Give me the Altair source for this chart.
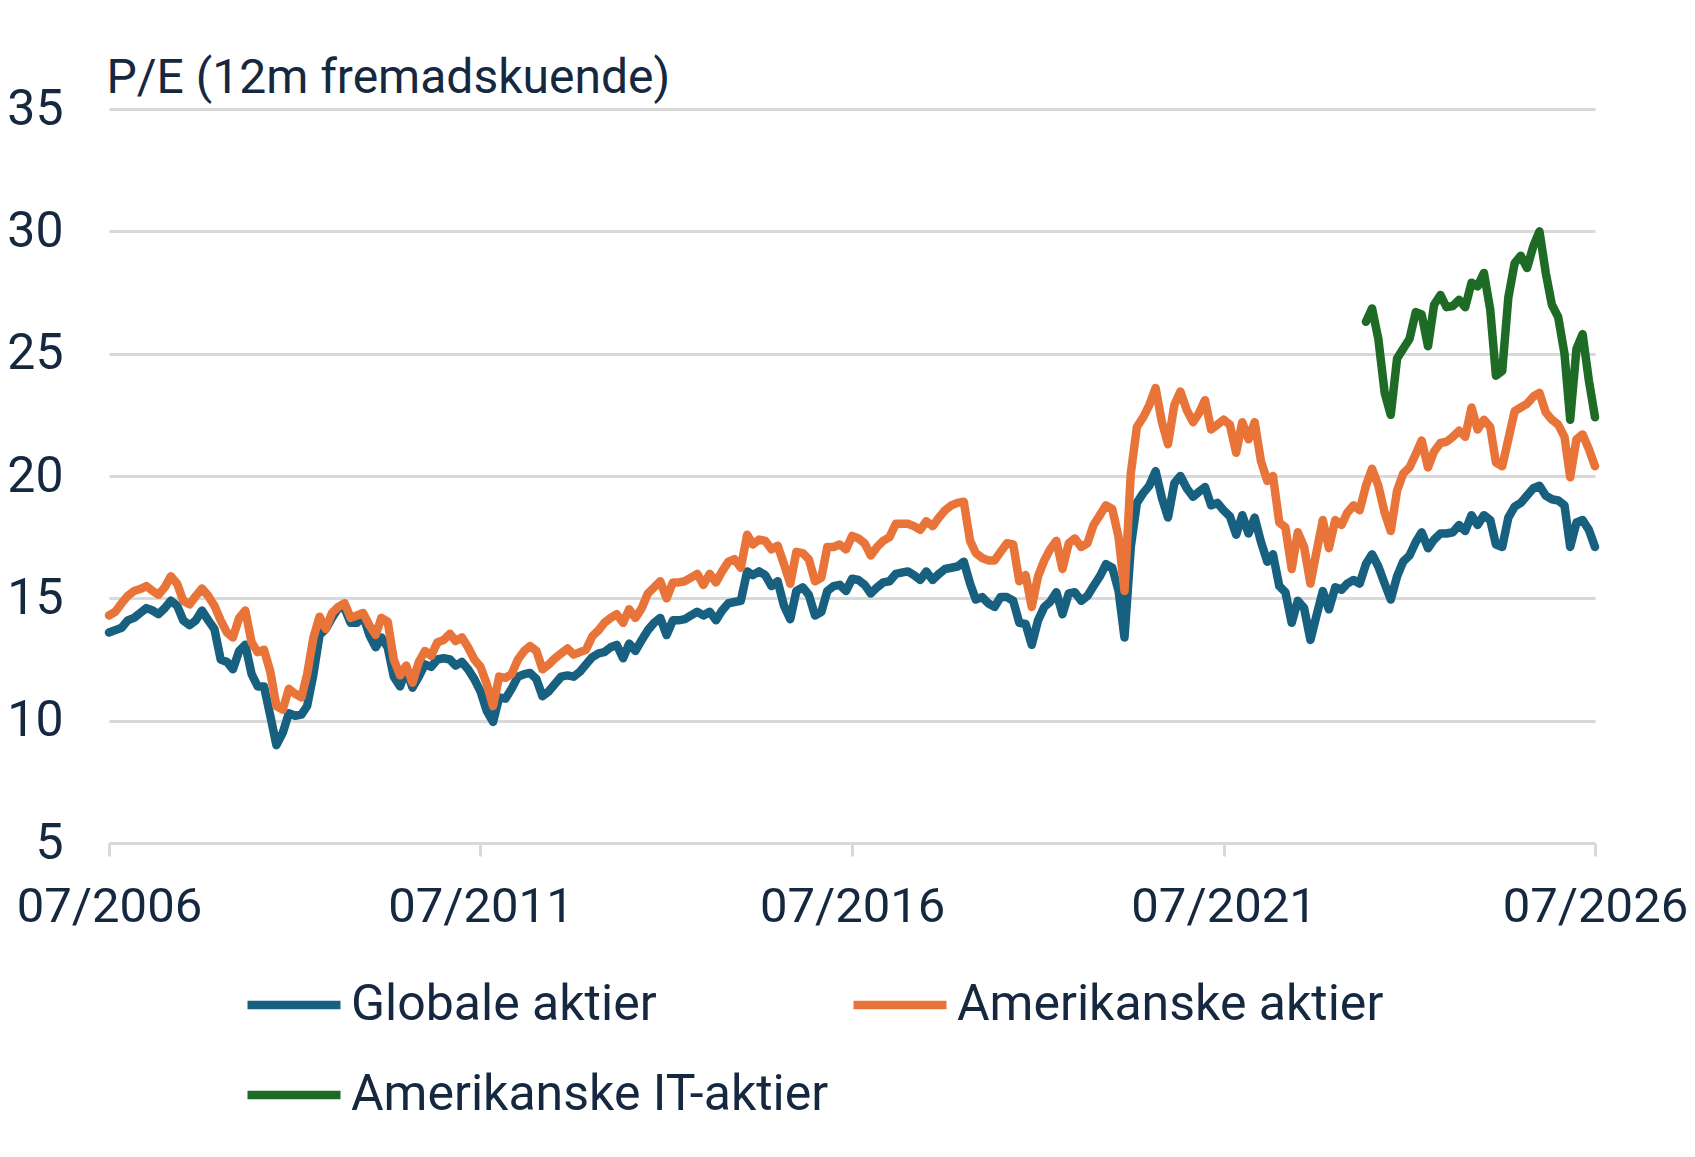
import altair as alt
import pandas as pd

# monthly forward P/E, first value is 07/2006
start_month = "2006-07-01"

globale_aktier = [
    13.6, 13.7, 13.8, 14.1, 14.2, 14.4, 14.6, 14.5, 14.35, 14.6,
    14.9, 14.7, 14.1, 13.9, 14.1, 14.5, 14.1, 13.75, 12.5, 12.4,
    12.1, 12.85, 13.1, 11.9, 11.4, 11.4, 10.2, 9.0, 9.5, 10.3,
    10.2, 10.25, 10.6, 11.9, 13.5, 13.75, 14.2, 14.6, 14.6, 14.0,
    14.0, 14.3, 13.5, 13.0, 13.4, 13.0, 11.8, 11.4, 12.1, 11.35,
    11.8, 12.3, 12.2, 12.5, 12.55, 12.5, 12.25, 12.4, 12.1, 11.7,
    11.2, 10.4, 9.95, 10.95, 10.9, 11.3, 11.8, 11.9, 11.95, 11.7,
    11.0, 11.2, 11.5, 11.8, 11.85, 11.8, 12.0, 12.3, 12.6, 12.75,
    12.8, 13.0, 13.1, 12.55, 13.15, 12.85, 13.3, 13.7, 14.0, 14.2,
    13.5, 14.1, 14.1, 14.15, 14.3, 14.45, 14.3, 14.45, 14.1, 14.5,
    14.8, 14.85, 14.9, 16.1, 15.95, 16.1, 15.95, 15.5, 15.7, 14.7,
    14.15, 15.3, 15.45, 15.15, 14.3, 14.45, 15.3, 15.5, 15.55, 15.3,
    15.8, 15.75, 15.55, 15.2, 15.45, 15.65, 15.7, 16.0, 16.05, 16.1,
    15.95, 15.75, 16.1, 15.75, 16.0, 16.2, 16.25, 16.3, 16.5, 15.6,
    14.95, 15.05, 14.8, 14.65, 15.05, 15.05, 14.9, 14.0, 13.95, 13.1,
    14.1, 14.65, 14.85, 15.25, 14.35, 15.2, 15.25, 14.9, 15.1, 15.5,
    15.9, 16.4, 16.25, 15.3, 13.4, 17.1, 18.9, 19.3, 19.6, 20.2,
    19.1, 18.3, 19.7, 20.0, 19.5, 19.15, 19.35, 19.55, 18.8, 18.9,
    18.6, 18.35, 17.6, 18.4, 17.65, 18.3, 17.3, 16.5, 16.8, 15.5,
    15.25, 14.0, 14.9, 14.6, 13.3, 14.3, 15.3, 14.55, 15.45, 15.35,
    15.6, 15.75, 15.6, 16.4, 16.8, 16.3, 15.6, 14.95, 15.9, 16.5,
    16.75, 17.3, 17.7, 17.05, 17.4, 17.65, 17.65, 17.7, 18.0, 17.75,
    18.4, 18.0, 18.4, 18.2, 17.2, 17.1, 18.3, 18.75, 18.9, 19.2,
    19.5, 19.6, 19.2, 19.05, 19.0, 18.8, 17.1, 18.1, 18.2, 17.8,
    17.1,
]

amerikanske_aktier = [
    14.3, 14.45, 14.8, 15.1, 15.3, 15.38, 15.5, 15.3, 15.15, 15.45,
    15.9, 15.6, 14.9, 14.75, 15.1, 15.4, 15.1, 14.7, 14.1, 13.6,
    13.4, 14.2, 14.5, 13.2, 12.8, 12.9, 12.0, 10.6, 10.45, 11.3,
    11.1, 10.95, 11.9, 13.4, 14.25, 13.75, 14.4, 14.65, 14.8, 14.2,
    14.3, 14.4, 13.9, 13.5, 14.2, 14.05, 12.5, 11.85, 12.25, 11.55,
    12.4, 12.85, 12.65, 13.2, 13.3, 13.55, 13.25, 13.4, 13.0, 12.5,
    12.2, 11.5, 10.6, 11.8, 11.75, 11.9, 12.5, 12.85, 13.05, 12.85,
    12.1, 12.3, 12.55, 12.75, 12.95, 12.7, 12.8, 12.9, 13.45, 13.7,
    14.0, 14.2, 14.35, 14.0, 14.55, 14.2, 14.6, 15.2, 15.45, 15.7,
    15.0, 15.65, 15.65, 15.7, 15.85, 16.0, 15.55, 16.0, 15.65, 16.1,
    16.5, 16.6, 16.25, 17.6, 17.2, 17.4, 17.35, 17.0, 17.15, 16.4,
    15.6, 16.9, 16.85, 16.6, 15.7, 15.85, 17.1, 17.1, 17.2, 17.0,
    17.55, 17.45, 17.25, 16.75, 17.1, 17.35, 17.5, 18.05, 18.05, 18.05,
    17.95, 17.8, 18.15, 17.95, 18.3, 18.6, 18.8, 18.9, 18.95, 17.35,
    16.85, 16.65, 16.55, 16.55, 16.9, 17.25, 17.2, 15.7, 15.95, 14.65,
    15.9, 16.55, 17.0, 17.35, 16.2, 17.25, 17.45, 17.1, 17.25, 18.0,
    18.4, 18.8, 18.65, 17.5, 15.3, 20.1, 22.0, 22.4, 22.9, 23.6,
    22.2, 21.3, 22.9, 23.45, 22.7, 22.2, 22.55, 23.1, 21.9, 22.1,
    22.3, 22.1, 20.95, 22.2, 21.5, 22.2, 20.6, 19.8, 20.0, 18.1,
    17.9, 16.2, 17.7, 17.1, 15.6, 16.9, 18.2, 17.05, 18.2, 18.0,
    18.5, 18.8, 18.6, 19.6, 20.3, 19.6, 18.5, 17.75, 19.4, 20.1,
    20.35, 20.9, 21.45, 20.35, 21.0, 21.35, 21.4, 21.6, 21.85, 21.6,
    22.8, 21.9, 22.3, 22.0, 20.55, 20.4, 21.5, 22.65, 22.8, 22.95,
    23.25, 23.4, 22.6, 22.3, 22.1, 21.6, 19.95, 21.5, 21.7, 21.1,
    20.4,
]

# IT series only starts in the spring of 2023 (month no. 203)
it_start = 203
amerikanske_it_aktier = [
    26.3, 26.85, 25.6, 23.4, 22.5, 24.8, 25.2, 25.6, 26.7, 26.6,
    25.3, 27.0, 27.4, 26.9, 26.95, 27.2, 26.9, 27.9, 27.75, 28.3,
    26.8, 24.1, 24.3, 27.3, 28.7, 29.0, 28.5, 29.4, 30.0, 28.3,
    27.0, 26.5, 25.0, 22.3, 25.2, 25.8, 23.9, 22.4,
]

serier = ["Globale aktier", "Amerikanske aktier", "Amerikanske IT-aktier"]
farver = ["#17607f", "#e9743a", "#1e6b26"]
y_ticks = [5, 10, 15, 20, 25, 30, 35]
x_tick_years = [2006, 2011, 2016, 2021, 2026]

navy = "#15283f"
grey = "#d9d9d9"

months = pd.date_range(start_month, periods=len(globale_aktier), freq="MS")
df = pd.concat([
    pd.DataFrame({"dato": months, "pe": globale_aktier, "serie": serier[0]}),
    pd.DataFrame({"dato": months, "pe": amerikanske_aktier, "serie": serier[1]}),
    pd.DataFrame({"dato": months[it_start:], "pe": amerikanske_it_aktier, "serie": serier[2]}),
], ignore_index=True)

x_axis = alt.Axis(
    values=[alt.DateTime(year=y, month=7, date=1) for y in x_tick_years],
    format="%m/%Y", labelFlush=False, labelOverlap=False, labelLimit=1000, grid=False,
    domainColor=grey, domainWidth=3, tickColor=grey, tickWidth=3, tickSize=13,
    labelPadding=26, labelFontSize=49,
)
y_axis = alt.Axis(
    values=y_ticks, domain=False, ticks=False, gridColor=grey, gridWidth=3,
    labelPadding=46, titleAngle=0, titleAlign="left", titleBaseline="alphabetic",
    titleX=-3, titleY=-17,
)

chart = alt.Chart(df).mark_line(strokeWidth=8.5, strokeJoin="round", strokeCap="round").encode(
    x=alt.X("dato:T", title=None, axis=x_axis,
            scale=alt.Scale(domain=[alt.DateTime(year=2006, month=7, date=1),
                                    alt.DateTime(year=2026, month=7, date=1)])),
    y=alt.Y("pe:Q", title="P/E (12m fremadskuende)", axis=y_axis,
            scale=alt.Scale(domain=[5, 35], nice=False, zero=False)),
    color=alt.Color("serie:N", sort=serier,
                    scale=alt.Scale(domain=serier, range=farver),
                    legend=alt.Legend(title=None, orient="none", legendX=134, legendY=845,
                                      direction="horizontal", columns=2,
                                      symbolType="stroke", symbolSize=8650,
                                      symbolStrokeWidth=8.5, labelOffset=6, labelLimit=1000,
                                      columnPadding=7, rowPadding=14, padding=0)),
).properties(
    width=1486, height=734,
    autosize=alt.AutoSizeParams(type="none"),
    padding={"left": 101, "top": 101, "right": 92, "bottom": 306},
).configure(
    font="Roboto"
).configure_axis(
    labelColor=navy, titleColor=navy, labelFontSize=50, titleFontSize=48,
    titleFontWeight="normal", labelFont="Roboto", titleFont="Roboto",
).configure_legend(
    labelColor=navy, labelFontSize=50, labelFont="Roboto",
).configure_view(stroke=None)

chart.save("out.html", embed_options={"renderer": "svg", "actions": False})
